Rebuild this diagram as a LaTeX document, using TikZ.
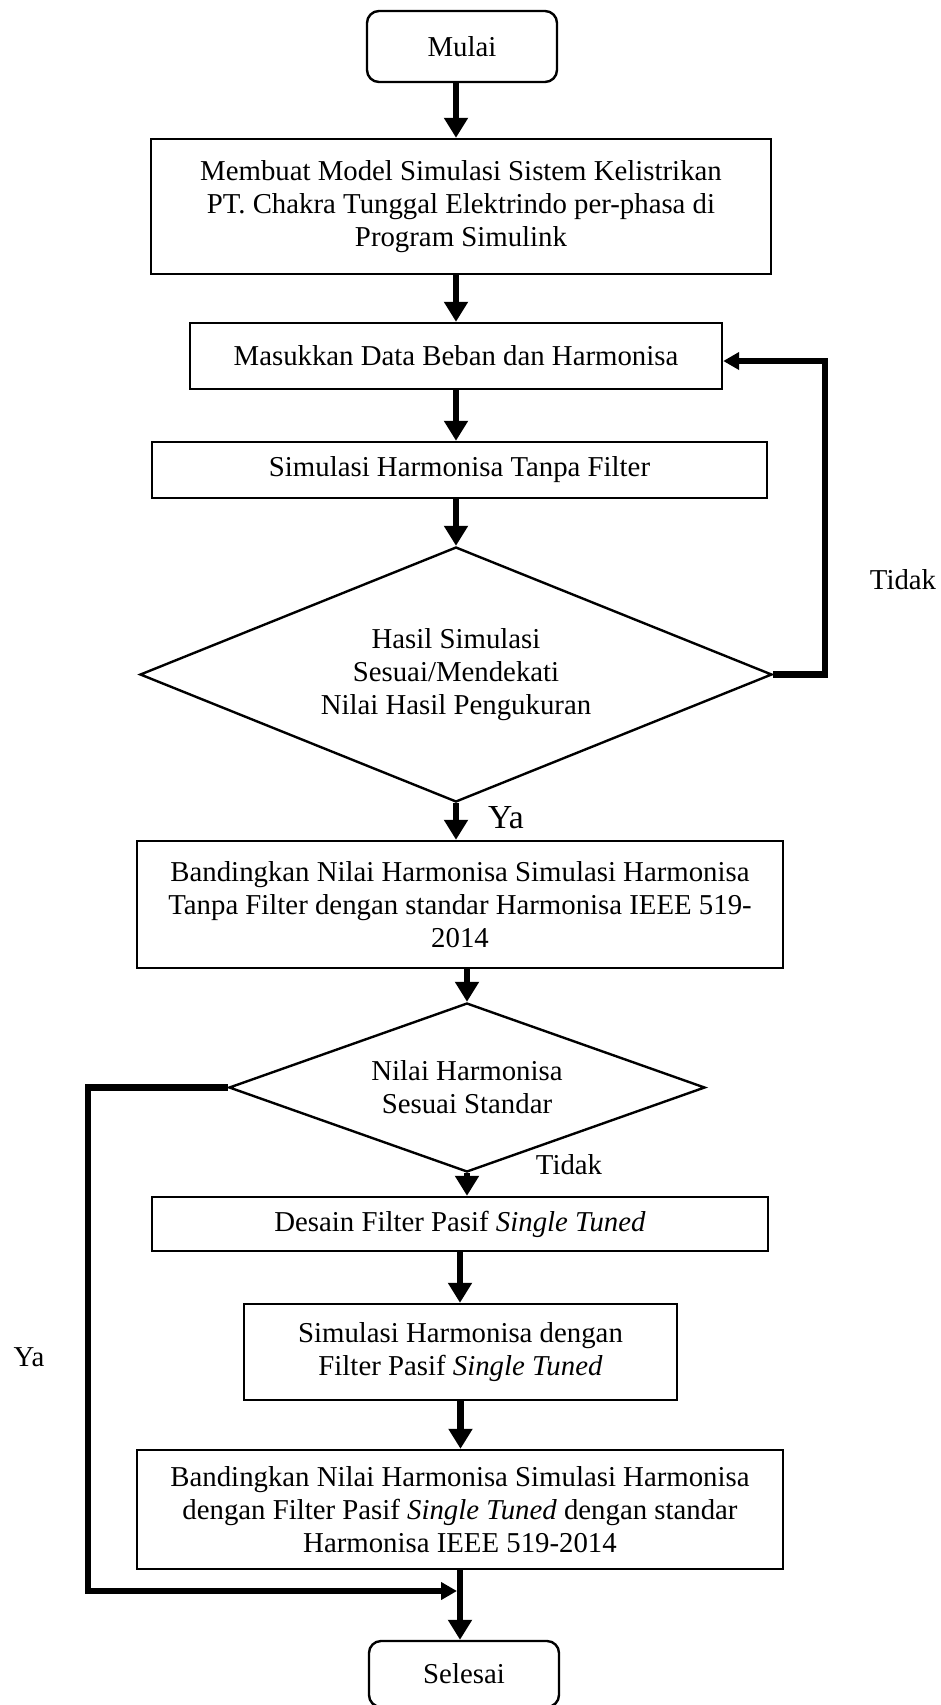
\documentclass[tikz,border=0pt]{standalone}
\usepackage{fontspec}
\setmainfont{Liberation Serif}
\usetikzlibrary{shapes.geometric,arrows.meta}
\begin{document}
\begin{tikzpicture}[x=0.5pt,y=-0.5pt,
  every node/.style={font=\fontsize{14.4pt}{16.5pt}\selectfont},
  proc/.style={draw,line width=1.2pt,rectangle,align=center,inner sep=0pt},
  term/.style={proc,rounded corners=6pt},
  dec/.style={draw,line width=1.2pt,diamond,align=center,inner sep=0pt},
  arr/.style={line width=3.2pt,-{Triangle[length=10pt,width=11.5pt]}},
  arrs/.style={line width=3.2pt,-{Triangle[length=8pt,width=8.5pt]}},
  lbl/.style={inner sep=0pt}]
\useasboundingbox (0,0) rectangle (941,1705);

\node[term,minimum width=95pt,minimum height=35.5pt] (m) at (462,46.5) {Mulai};
\node[proc,minimum width=310pt,minimum height=67.5pt] (b1) at (461,206.5) {Membuat Model Simulasi Sistem Kelistrikan\\PT. Chakra Tunggal Elektrindo per-phasa di\\Program Simulink};
\node[proc,minimum width=266pt,minimum height=33pt] (b2) at (456,356) {Masukkan Data Beban dan Harmonisa};
\node[proc,minimum width=307.5pt,minimum height=28pt] (b3) at (459.5,470) {Simulasi Harmonisa Tanpa Filter};
\node[dec,minimum width=316pt,minimum height=127.5pt,aspect=2.48] (d1) at (456,674.5) {Hasil Simulasi\\Sesuai/Mendekati\\Nilai Hasil Pengukuran};
\node[proc,minimum width=323pt,minimum height=63.5pt] (b4) at (460,904.5) {Bandingkan Nilai Harmonisa Simulasi Harmonisa\\Tanpa Filter dengan standar Harmonisa IEEE 519-\\2014};
\node[dec,minimum width=238pt,minimum height=84.5pt,aspect=2.82] (d2) at (467,1087.5) {Nilai Harmonisa\\Sesuai Standar};
\node[proc,minimum width=308pt,minimum height=27pt] (b5) at (460,1224) {Desain Filter Pasif \textit{Single Tuned}};
\node[proc,minimum width=216.5pt,minimum height=48pt] (b6) at (460.5,1352) {Simulasi Harmonisa dengan\\Filter Pasif \textit{Single Tuned}};
\node[proc,minimum width=323pt,minimum height=59.5pt] (b7) at (460,1509.5) {Bandingkan Nilai Harmonisa Simulasi Harmonisa\\dengan Filter Pasif \textit{Single Tuned} dengan standar\\Harmonisa IEEE 519-2014};
\node[term,minimum width=95pt,minimum height=33pt] (s) at (464,1674) {Selesai};

\node[lbl] (t1) at (903,580) {Tidak};
\node[lbl,font=\fontsize{16.8pt}{19pt}\selectfont] (y1) at (506,818) {Ya};
\node[lbl] (t2) at (569,1165) {Tidak};
\node[lbl] (y2) at (29,1357) {Ya};

\coordinate (fb1) at (825,674.5);
\coordinate (fb2) at (825,361);
\coordinate (ya1) at (88,1087.5);
\coordinate (ya2) at (88,1591);
\coordinate (j) at (457,1591);

\draw[arr] (m.south -| b2) -- (b1.north -| b2);
\draw[arr] (b1.south -| b2) -- (b2.north);
\draw[arr] (b2.south) -- (b3.north -| b2);
\draw[arr] (b3.south -| d1) -- (d1.north);
\draw[arrs,line join=miter] (d1.east) -- (fb1) -- (fb2) -- (fb2 -| b2.east);
\draw[arr] (d1.south) -- (d1.south |- b4.north);
\draw[arr] (b4.south -| d2.north) -- (d2.north);
\draw[arrs,line join=miter] (d2.west) -- (ya1) -- (ya2) -- (j);
\draw[arr] (d2.south) -- (d2.south |- b5.north);
\draw[arr] (b5.south) -- (b5.south |- b6.north);
\draw[arr] (b6.south) -- (b6.south |- b7.north);
\draw[arr] (b7.south) -- (b7.south |- s.north);
\end{tikzpicture}
\end{document}
